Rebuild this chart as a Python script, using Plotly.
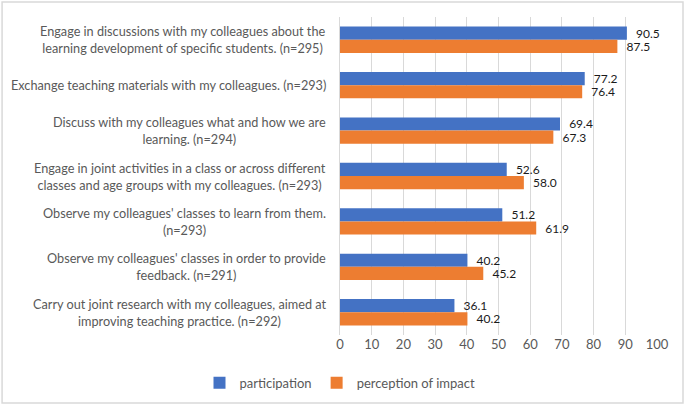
import plotly.graph_objects as go

categories = [
    "Engage in discussions with my colleagues about the<br>learning development of specific students. (n=295)",
    "Exchange teaching materials with my colleagues. (n=293)",
    "Discuss with my colleagues what and how we are<br>learning. (n=294)",
    "Engage in joint activities in a class or across different<br>classes and age groups with my colleagues. (n=293)",
    "Observe my colleagues' classes to learn from them.<br>(n=293)",
    "Observe my colleagues' classes in order to provide<br>feedback. (n=291)",
    "Carry out joint research with my colleagues, aimed at<br>improving teaching practice. (n=292)",
]
participation = [90.5, 77.2, 69.4, 52.6, 51.2, 40.2, 36.1]
impact = [87.5, 76.4, 67.3, 58.0, 61.9, 45.2, 40.2]
x_ticks = list(range(0, 101, 10))

font_name = "Lato"
grey = "#595959"

fig = go.Figure()
fig.add_trace(go.Bar(
    y=categories, x=participation, orientation="h", name="participation",
    marker=dict(color="#4472C4", line=dict(width=0)),
    texttemplate="  %{x:.1f}", textposition="outside", constraintext="none",
    textfont=dict(family=font_name, size=12, color="#1a1a1a"), cliponaxis=False,
))
fig.add_trace(go.Bar(
    y=categories, x=impact, orientation="h", name="perception of impact",
    marker=dict(color="#ED7D31", line=dict(width=0)),
    texttemplate="  %{x:.1f}", textposition="outside", constraintext="none",
    textfont=dict(family=font_name, size=12, color="#1a1a1a"), cliponaxis=False,
))

# category labels as annotations so wrapped lines are centred like the original
for c in categories:
    fig.add_annotation(
        x=0, xref="paper", y=c, yref="y", text=c, showarrow=False,
        xanchor="right", align="center", xshift=-12,
        font=dict(family=font_name, size=12.7, color=grey),
    )

# outer chart border
fig.add_shape(type="rect", xref="paper", yref="paper",
              x0=-1.066, x1=1.082, y0=-0.214, y1=1.047,
              line=dict(color="#d9d9d9", width=1.5), layer="below")

fig.update_layout(
    width=685, height=406,
    margin=dict(l=340, r=28, t=17, b=71, autoexpand=False),
    paper_bgcolor="white", plot_bgcolor="white",
    barmode="group", bargap=0.42, bargroupgap=0,
    font=dict(family=font_name, size=12, color=grey),
    legend=dict(orientation="h", x=0.0, xanchor="center",
                y=-0.15, yanchor="middle", itemwidth=30,
                font=dict(family=font_name, size=13, color=grey)),
    xaxis=dict(range=[0, 100], tickvals=x_ticks, showgrid=True,
               gridcolor="#d9d9d9", gridwidth=1, zeroline=False,
               showline=False, ticks="", automargin=False,
               tickfont=dict(family=font_name, size=13, color=grey)),
    yaxis=dict(autorange="reversed", showticklabels=False, ticks="",
               showline=True, linecolor="#d9d9d9", linewidth=1,
               showgrid=False, automargin=False),
)

fig.write_html("out.html", config={"displayModeBar": False},
               post_script="document.body.style.margin='0';")
